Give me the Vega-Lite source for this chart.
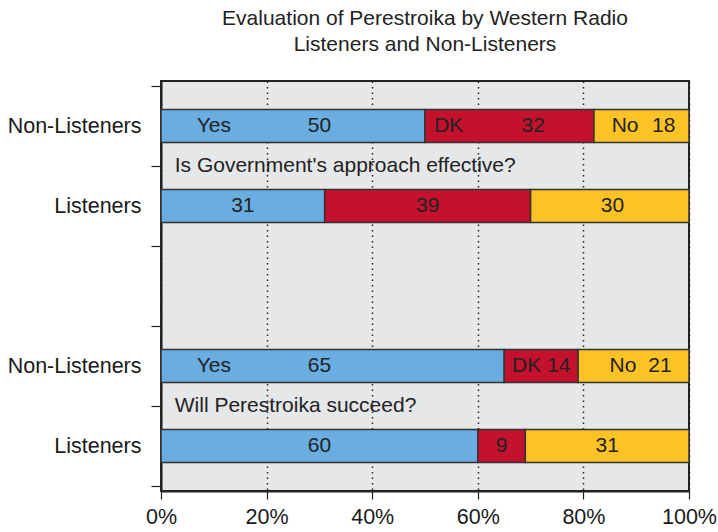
{
  "$schema": "https://vega.github.io/schema/vega-lite/v6.json",
  "width": 528,
  "height": 410,
  "autosize": {"type": "none"},
  "padding": {"left": 161, "top": 81, "right": 29, "bottom": 41},
  "background": "white",
  "title": {
    "text": ["Evaluation of Perestroika by Western Radio", "Listeners and Non-Listeners"],
    "font": "Liberation Sans",
    "fontSize": 21,
    "fontWeight": "normal",
    "color": "#222222",
    "anchor": "middle",
    "lineHeight": 26,
    "offset": 26
  },
  "config": {
    "view": {"fill": "#e6e7e9", "stroke": "#222222", "strokeWidth": 2},
    "axis": {"labelFont": "Liberation Sans", "labelFontSize": 21.5, "labelColor": "#1a1a1a"}
  },
  "datasets": {
    "bars": [
      {"pos": 4.5, "cat": "Yes", "order": 1, "value": 50},
      {"pos": 4.5, "cat": "DK", "order": 2, "value": 32},
      {"pos": 4.5, "cat": "No", "order": 3, "value": 18},
      {"pos": 3.5, "cat": "Yes", "order": 1, "value": 31},
      {"pos": 3.5, "cat": "DK", "order": 2, "value": 39},
      {"pos": 3.5, "cat": "No", "order": 3, "value": 30},
      {"pos": 1.5, "cat": "Yes", "order": 1, "value": 65},
      {"pos": 1.5, "cat": "DK", "order": 2, "value": 14},
      {"pos": 1.5, "cat": "No", "order": 3, "value": 21},
      {"pos": 0.5, "cat": "Yes", "order": 1, "value": 60},
      {"pos": 0.5, "cat": "DK", "order": 2, "value": 9},
      {"pos": 0.5, "cat": "No", "order": 3, "value": 31}
    ],
    "labels": [
      {"pos": 4.5, "x": 10, "text": "Yes"},
      {"pos": 4.5, "x": 30, "text": "50"},
      {"pos": 4.5, "x": 54.5, "text": "DK"},
      {"pos": 4.5, "x": 70.5, "text": "32"},
      {"pos": 4.5, "x": 87.9, "text": "No"},
      {"pos": 4.5, "x": 95.2, "text": "18"},
      {"pos": 3.5, "x": 15.5, "text": "31"},
      {"pos": 3.5, "x": 50.5, "text": "39"},
      {"pos": 3.5, "x": 85.5, "text": "30"},
      {"pos": 1.5, "x": 10, "text": "Yes"},
      {"pos": 1.5, "x": 30, "text": "65"},
      {"pos": 1.5, "x": 72, "text": "DK 14"},
      {"pos": 1.5, "x": 87.5, "text": "No"},
      {"pos": 1.5, "x": 94.5, "text": "21"},
      {"pos": 0.5, "x": 30, "text": "60"},
      {"pos": 0.5, "x": 64.5, "text": "9"},
      {"pos": 0.5, "x": 84.5, "text": "31"}
    ],
    "questions": [
      {"pos": 4, "x": 2.6, "text": "Is Government's approach effective?"},
      {"pos": 1, "x": 2.6, "text": "Will Perestroika succeed?"}
    ]
  },
  "layer": [
    {
      "data": {"name": "bars"},
      "transform": [
        {"stack": "value", "groupby": ["pos"], "sort": [{"field": "order"}], "as": ["x0", "x1"]}
      ],
      "mark": {"type": "bar", "height": 33, "stroke": "#333333", "strokeWidth": 1.5},
      "encoding": {
        "x": {
          "field": "x0", "type": "quantitative",
          "scale": {"domain": [0, 100], "nice": false},
          "axis": {
            "title": null,
            "values": [0, 20, 40, 60, 80, 100],
            "labelExpr": "datum.value + '%'",
            "grid": true,
            "gridDash": [1.5, 4],
            "gridColor": "#222222",
            "gridWidth": 1.5,
            "gridOpacity": 1,
            "tickSize": 8,
            "tickColor": "#222222",
            "tickWidth": 1.2,
            "domainColor": "#222222",
            "domainWidth": 2,
            "labelPadding": 7,
            "labelFlush": false
          }
        },
        "x2": {"field": "x1"},
        "y": {
          "field": "pos", "type": "quantitative",
          "scale": {"domain": [0, 5], "nice": false, "zero": false},
          "axis": {
            "title": null,
            "values": [0, 0.5, 1, 1.5, 2, 3, 3.5, 4, 4.5, 5],
            "grid": false,
            "labelExpr": "datum.value == 4.5 || datum.value == 1.5 ? 'Non-Listeners' : (datum.value == 3.5 || datum.value == 0.5 ? 'Listeners' : '')",
            "tickOpacity": {"condition": {"test": "datum.value % 1 === 0", "value": 1}, "value": 0},
            "tickSize": 10,
            "tickColor": "#222222",
            "tickWidth": 1.2,
            "domainColor": "#222222",
            "domainWidth": 2,
            "labelPadding": 10,
            "labelBaseline": "middle"
          }
        },
        "color": {
          "field": "cat", "type": "nominal",
          "scale": {"domain": ["Yes", "DK", "No"], "range": ["#6aade0", "#c3112e", "#fdc225"]},
          "legend": null
        }
      }
    },
    {
      "data": {"name": "labels"},
      "mark": {"type": "text", "font": "Liberation Sans", "fontSize": 21, "color": "#222222", "align": "center", "baseline": "middle"},
      "encoding": {
        "x": {"field": "x", "type": "quantitative"},
        "y": {"field": "pos", "type": "quantitative"},
        "text": {"field": "text"}
      }
    },
    {
      "data": {"name": "questions"},
      "mark": {"type": "text", "font": "Liberation Sans", "fontSize": 21, "color": "#222222", "align": "left", "baseline": "middle"},
      "encoding": {
        "x": {"field": "x", "type": "quantitative"},
        "y": {"field": "pos", "type": "quantitative"},
        "text": {"field": "text"}
      }
    }
  ]
}
